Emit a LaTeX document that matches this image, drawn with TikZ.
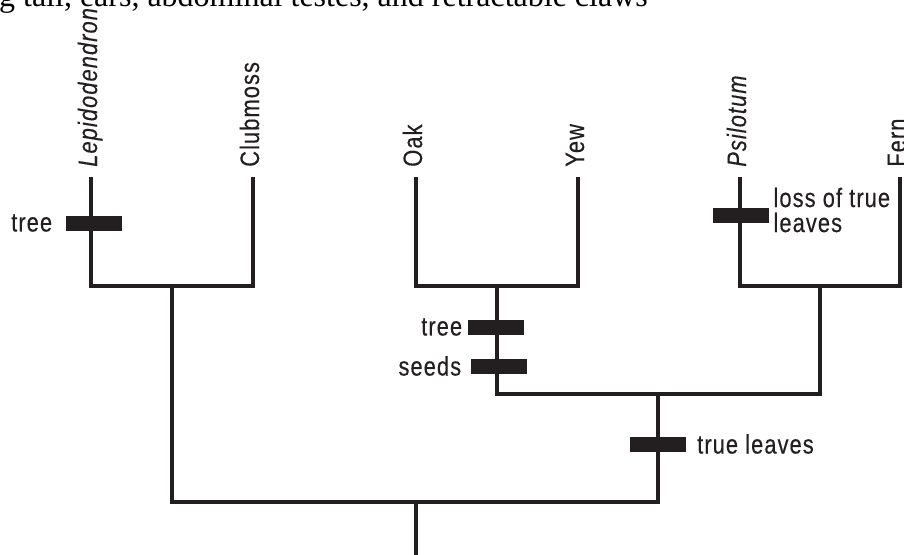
\documentclass[tikz,border=0pt]{standalone}
\usepackage{fontspec}
\setmainfont{Liberation Serif}
\newfontfamily\cladefont[FakeStretch=0.82,LetterSpace=4,FakeBold=0.3]{Liberation Sans}
\usetikzlibrary{positioning}
\definecolor{inkblack}{RGB}{35,31,32}
\tikzset{
    % Branch style
    branch/.style={
        draw=inkblack, line width=2.6pt
    },
    % Character bar style
    charbar/.style={
        rectangle, fill=inkblack, inner sep=0pt,
        minimum width=42pt, minimum height=11.25pt
    },
    % Taxon name style
    taxon/.style={
        rotate=90, anchor=base west, inner sep=0pt, text=inkblack,
        font=\cladefont\fontsize{20}{19}\selectfont
    },
    % Character label style
    charlabel/.style={
        inner sep=0pt, text=inkblack,
        font=\cladefont\fontsize{20}{18.75}\selectfont
    }
}
\begin{document}
\begin{tikzpicture}[x=0.75pt, y=-0.75pt]
\useasboundingbox (0,0) rectangle (904,554);

% cut-off caption line above the tree
\node[anchor=base east, inner sep=0pt, font=\fontsize{24}{28}\selectfont] (caption) at (648,6)
    {g tail, ears, abdominal testes, and retractable claws};

% branch tips
\coordinate (lep) at (91,177);
\coordinate (club) at (253,177);
\coordinate (oak) at (416,177);
\coordinate (yew) at (578,177);
\coordinate (psil) at (740,177);
\coordinate (fern) at (900,177);

% taxon names
\node[taxon] (lepname) at ([shift={(6,-10)}]lep) {\itshape Lepidodendron};
\node[taxon] (clubname) at ([shift={(6,-10)}]club) {Clubmoss};
\node[taxon] (oakname) at ([shift={(6,-10)}]oak) {Oak};
\node[taxon] (yewname) at ([shift={(6,-10)}]yew) {Yew};
\node[taxon] (psilname) at ([shift={(6,-10)}]psil) {\itshape Psilotum};
\node[taxon] (fernname) at ([shift={(6,-10)}]fern) {Fern};

% internal nodes
\coordinate (n1) at (172,286);
\coordinate (n2) at (497,286);
\coordinate (n4) at (820,286);
\coordinate (n3) at (658,394);
\coordinate (n0) at (416,502);
\coordinate (base) at (416,558);

% branches
\draw[branch] (lep) |- (n1) -| (club);
\draw[branch] (oak) |- (n2) -| (yew);
\draw[branch] (psil) |- (n4) -| (fern);
\draw[branch] (n2) |- (n3) -| (n4);
\draw[branch] (n1) |- (n0) -| (n3);
\draw[branch] (n0) -- (base);

% character changes
\node[charbar] (lepbar) at (94,223) {};
\node[charlabel, left=10pt of lepbar] (leptree) {tree};
\node[charbar] (treebar) at (496,327) {};
\node[charlabel, left=4pt of treebar] (seedtree) {tree};
\node[charbar] (seedbar) at (499,366) {};
\node[charlabel, left=7pt of seedbar] (seeds) {seeds};
\node[charbar] (leafbar) at (658,444) {};
\node[charlabel, right=8pt of leafbar] (leaves) {true leaves};
\node[charbar] (lossbar) at (741,215) {};
\node[charlabel, right=3pt of lossbar, align=left, yshift=3.75pt] (loss) {loss of true\\leaves};

\end{tikzpicture}
\end{document}
